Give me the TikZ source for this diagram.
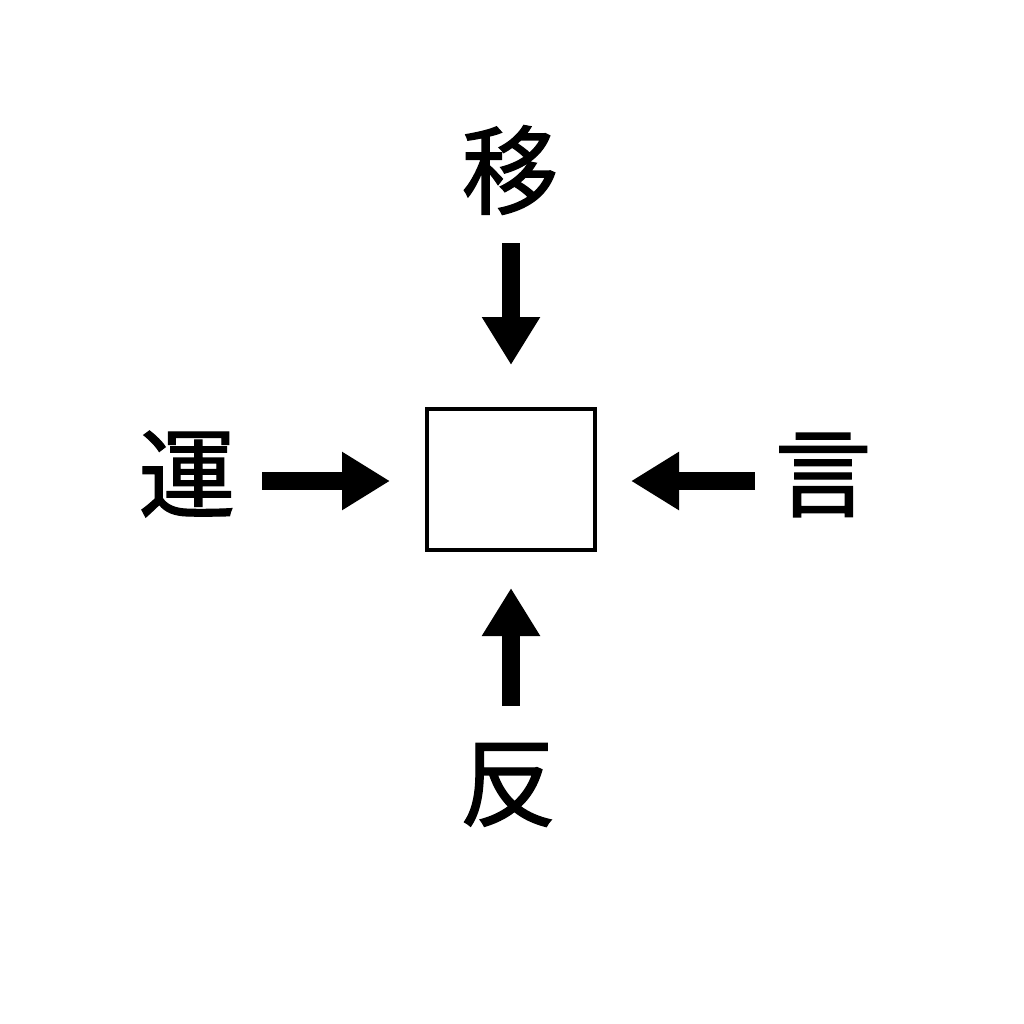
\documentclass[tikz,border=0pt]{standalone}
\usepackage{fontspec}
\newfontfamily\cjk{Noto Sans CJK JP}[FakeBold=1.3]
\usetikzlibrary{arrows.meta}
\begin{document}
\begin{tikzpicture}[x=1pt,y=-1pt,
  lab/.style={font=\cjk\fontsize{97}{97}\selectfont, inner sep=0pt},
  fatarrow/.style={line width=18pt, -{Triangle[width=55pt,length=48pt]}}]
\useasboundingbox[fill=white] (0,0) rectangle (1024,1024);
\node[draw, line width=4pt, minimum width=168pt, minimum height=141pt, inner sep=0pt] (box) at (511,479.5) {};
\node[lab] (top) at (510,170) {移};
\node[lab] (left) at (187,474) {運};
\node[lab] (right) at (823,475) {言};
\node[lab] (bottom) at (508,785) {反};
\coordinate (t1) at (511,243); \coordinate (t2) at (511,365);
\coordinate (l1) at (262,481); \coordinate (l2) at (390,481);
\coordinate (r1) at (755,481); \coordinate (r2) at (631,481);
\coordinate (b1) at (511,706); \coordinate (b2) at (511,588);
\draw[fatarrow] (t1) -- (t2);
\draw[fatarrow] (l1) -- (l2);
\draw[fatarrow] (r1) -- (r2);
\draw[fatarrow] (b1) -- (b2);
\end{tikzpicture}
\end{document}
